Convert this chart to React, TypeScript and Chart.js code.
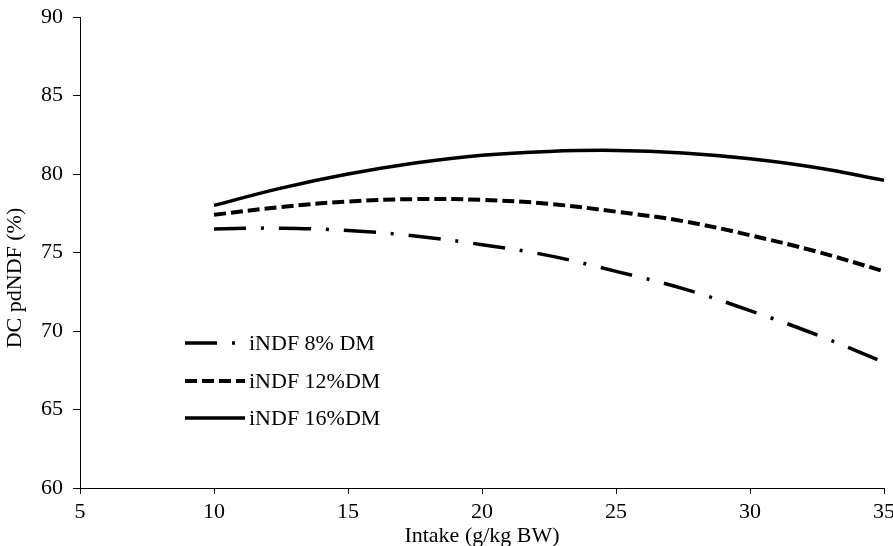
import React, { useEffect, useRef } from "react";
import { Chart, registerables } from "chart.js";

Chart.register(...registerables);

const intake = [10, 12.5, 15, 17.5, 20, 22.5, 25, 27.5, 30, 32.5, 35];
const indf8 = [76.5, 76.55, 76.4, 76.05, 75.5, 74.8, 73.8, 72.7, 71.3, 69.75, 68.0];
const indf12 = [77.4, 77.9, 78.25, 78.4, 78.35, 78.1, 77.6, 77.0, 76.1, 75.05, 73.8];
const indf16 = [78.0, 79.1, 80.0, 80.7, 81.2, 81.44, 81.5, 81.34, 80.97, 80.4, 79.6];

const seriesLabels = ["iNDF 8% DM", "iNDF 12%DM", "iNDF 16%DM"];
const xTicks = [5, 10, 15, 20, 25, 30, 35];
const yTicks = [60, 65, 70, 75, 80, 85, 90];
const yTitle = "DC pdNDF (%)";
const xTitle = "Intake (g/kg BW)";

const FONT = "'Times New Roman', 'Liberation Serif', serif";
const FSIZE = 22;
const DASHES = [[32, 15, 3, 15], [12, 5], []];

const overlayPlugin = {
  id: "overlay",
  afterDatasetsDraw(chart: any) {
    const ctx = chart.ctx;
    const rows = [343, 381, 418];
    ctx.save();
    seriesLabels.forEach((label, i) => {
      const y = rows[i];
      ctx.beginPath();
      ctx.setLineDash(DASHES[i]);
      ctx.lineWidth = i === 1 ? 4 : 3.5;
      ctx.strokeStyle = "#000";
      ctx.lineCap = "butt";
      ctx.moveTo(185, y);
      ctx.lineTo(i === 0 ? 248 : 245, y);
      ctx.stroke();
      ctx.setLineDash([]);
      ctx.fillStyle = "#000";
      ctx.font = `${FSIZE}px ${FONT}`;
      ctx.textBaseline = "middle";
      ctx.textAlign = "left";
      ctx.fillText(label, 249, y + 1);
    });
    ctx.translate(15, 278);
    ctx.rotate(-Math.PI / 2);
    ctx.textAlign = "center";
    ctx.textBaseline = "middle";
    ctx.fillText(yTitle, 0, 0);
    ctx.restore();
  },
};

export default function App() {
  const ref = useRef<HTMLCanvasElement>(null);
  useEffect(() => {
    document.body.style.margin = "0";
    const mk = (ys: number[]) => intake.map((x, i) => ({ x, y: ys[i] }));
    const series = [indf8, indf12, indf16];
    const chart = new Chart(ref.current!, {
      type: "line",
      data: {
        datasets: series.map((ys, i) => ({
          label: seriesLabels[i],
          data: mk(ys),
          borderColor: "#000",
          borderWidth: i === 1 ? 4 : 3.5,
          borderDash: DASHES[i],
          pointRadius: 0,
          tension: 0.4,
          fill: false,
        })),
      },
      options: {
        animation: false,
        responsive: false,
        maintainAspectRatio: false,
        layout: { padding: { top: 17, right: 9, left: 0, bottom: 0 } },
        plugins: { legend: { display: false }, tooltip: { enabled: false } },
        scales: {
          x: {
            type: "linear",
            min: 5,
            max: 35,
            afterBuildTicks: (s: any) => {
              s.ticks = xTicks.map((v) => ({ value: v }));
            },
            afterFit: (s: any) => {
              s.height = 58;
              s.paddingRight = 0;
              s.paddingLeft = 0;
            },
            grid: { display: true, drawOnChartArea: false, drawTicks: true, tickLength: 6, color: "#000", lineWidth: 1 },
            border: { display: true, color: "#000", width: 1 },
            ticks: { color: "#000", font: { family: FONT, size: FSIZE }, padding: 5, maxRotation: 0, autoSkip: false },
            title: { display: true, text: xTitle, color: "#000", font: { family: FONT, size: FSIZE }, padding: { top: 0, bottom: -3 } },
          },
          y: {
            type: "linear",
            min: 60,
            max: 90,
            afterBuildTicks: (s: any) => {
              s.ticks = yTicks.map((v) => ({ value: v }));
            },
            afterFit: (s: any) => {
              s.width = 80;
              s.paddingTop = 0;
              s.paddingBottom = 0;
            },
            grid: { display: true, drawOnChartArea: false, drawTicks: true, tickLength: 7, color: "#000", lineWidth: 1 },
            border: { display: true, color: "#000", width: 1 },
            ticks: { color: "#000", font: { family: FONT, size: FSIZE }, padding: 10 },
            title: { display: false },
          },
        },
      },
      plugins: [overlayPlugin],
    });
    return () => chart.destroy();
  }, []);
  return (
    <div style={{ position: "absolute", left: 0, top: 0, width: 893, height: 546 }}>
      <canvas ref={ref} width={893} height={546} style={{ width: 893, height: 546 }} />
    </div>
  );
}
